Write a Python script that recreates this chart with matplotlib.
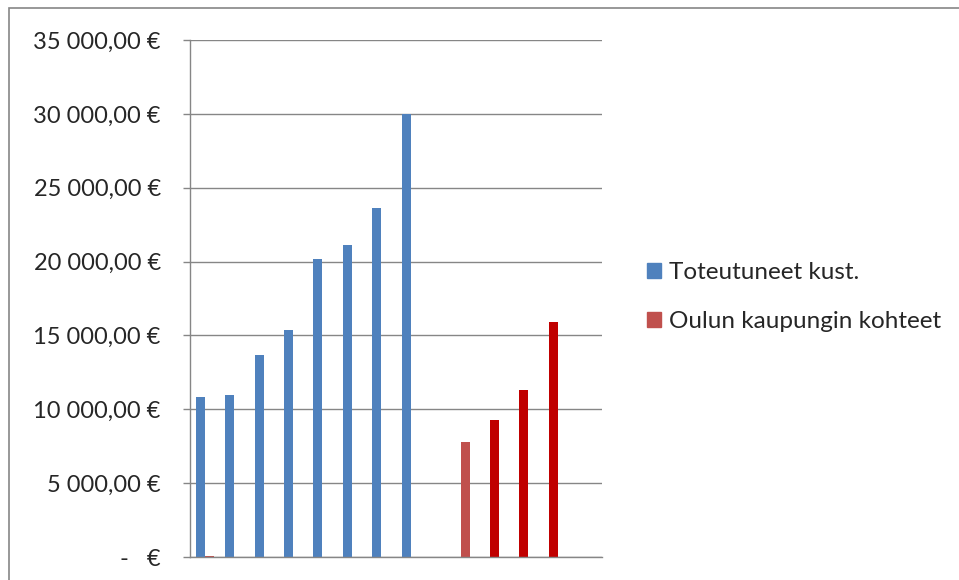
import numpy as np
import matplotlib
matplotlib.use("Agg")
import matplotlib.pyplot as plt
from matplotlib.patches import Patch, Rectangle
from matplotlib.ticker import FuncFormatter

plt.rcParams['font.family'] = ['Lato', 'DejaVu Sans']

# 14 kohdetta, kaksi sarjaa
kohteet = np.arange(14)
kustannukset = [10800, 11000, 13650, 15350, 20200, 21150, 23600, 30000,
                np.nan, 7800, 9250, 11300, 15900, np.nan]
oulun_sarja = [70, 0, 0, 0, 0, 0, 0, 0, 0, 0, 0, 0, 0, 0]
sarjat = ['Toteutuneet kust.', 'Oulun kaupungin kohteet']

sininen = '#4F81BD'
punainen = '#C0504D'
tummapunainen = '#C00000'
varit = [sininen] * 8 + [sininen] + [punainen] + [tummapunainen] * 3 + [sininen]

fig = plt.figure(figsize=(9.59, 5.8), dpi=100)
ax = fig.add_axes([190 / 959, 23 / 580, 412 / 959, 517 / 580])

w = 0.306
ax.bar(kohteet - w / 2, kustannukset, w, color=varit)
ax.bar(kohteet + w / 2, oulun_sarja, w, color=punainen)

ax.set_xlim(-0.5, 13.5)
ax.set_ylim(0, 35000)
ax.set_yticks(np.arange(0, 35001, 5000))


def euro(v, pos):
    if v == 0:
        return '-   €'
    return '{:,.2f} €'.format(v).replace(',', ' ').replace('.', ',')


ax.yaxis.set_major_formatter(FuncFormatter(euro))
ax.tick_params(axis='y', length=5, width=1, color='#868686', pad=16,
               labelsize=17, labelcolor='#262626')
ax.set_xticks([])

ax.grid(axis='y', color='#868686', linewidth=1)
ax.set_axisbelow(True)
for s in ['top', 'right']:
    ax.spines[s].set_visible(False)
for s in ['left', 'bottom']:
    ax.spines[s].set_color('#868686')
    ax.spines[s].set_linewidth(1)

# Kaavion kehys
fig.add_artist(Rectangle((9 / 959, -0.1), 1.1, (580 - 8) / 580 + 0.1,
                         transform=fig.transFigure, fill=False,
                         edgecolor='#868686', linewidth=1.2))

kahvat = [Patch(color=sininen), Patch(color=punainen)]
fig.legend(kahvat, sarjat, loc='center left', bbox_to_anchor=(635 / 959, 1 - 297 / 580),
           frameon=False, fontsize=17.5, handlelength=0.58, handleheight=0.58,
           handletextpad=0.3, labelspacing=1.18, borderpad=0, labelcolor='#262626')

fig.savefig('out.png', dpi=100)
